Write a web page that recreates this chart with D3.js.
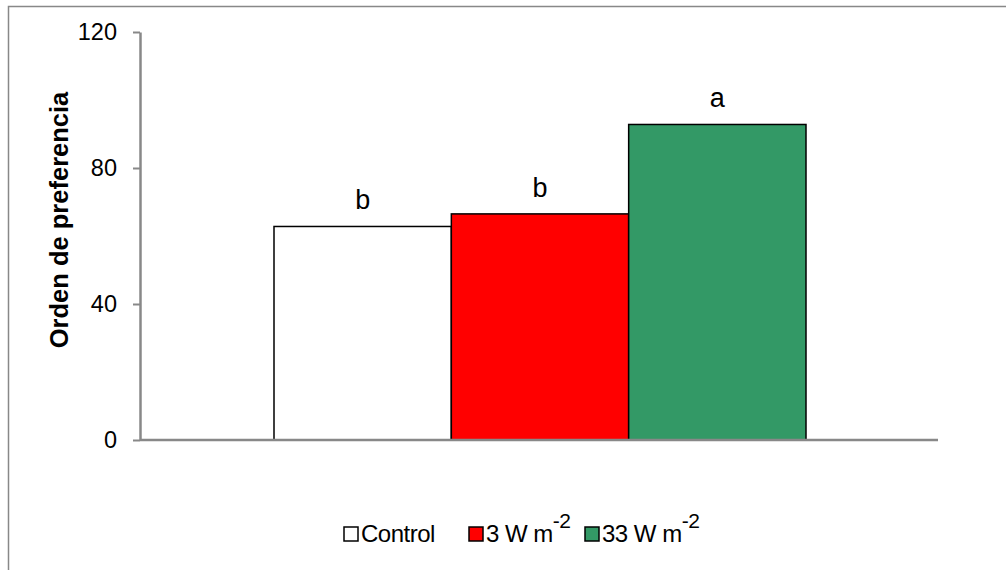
<!DOCTYPE html>
<html>
<head>
<meta charset="utf-8">
<script src="https://cdn.jsdelivr.net/npm/d3@7"></script>
<style>
  body { margin: 0; background: #fff; }
  text { font-family: "Liberation Sans", Arial, sans-serif; }
</style>
</head>
<body>
<svg width="1006" height="570"></svg>
<script>
// data
var seriesNames = ["Control", "3 W m", "33 W m"];
var seriesValues = [62.8, 66.5, 92.8];
var seriesLetters = ["b", "b", "a"];
var seriesColors = ["#FFFFFF", "#FF0000", "#339966"];
var yTicks = [0, 40, 80, 120];

let svg = d3.select("svg");

// outer frame
svg.append("rect")
    .attr("x", 8.5).attr("y", 6.5)
    .attr("width", 1010).attr("height", 580)
    .attr("fill", "none")
    .attr("stroke", "#888")
    .attr("stroke-width", 1.5);

let plotLeft = 140, plotRight = 938, plotTop = 32, plotBottom = 440;

var y = d3.scaleLinear().domain([0, 120]).range([plotBottom, plotTop]);
// one category, three series side by side
var x = d3.scaleBand().domain(seriesNames).range([274, 806]).paddingInner(0).paddingOuter(0);

// bars
svg.append("g").selectAll("rect")
    .data(seriesValues)
    .enter()
    .append("rect")
    .attr("x", (d, i) => x(seriesNames[i]))
    .attr("y", d => y(d))
    .attr("width", x.bandwidth())
    .attr("height", d => plotBottom - y(d))
    .attr("fill", (d, i) => seriesColors[i])
    .attr("stroke", "#000")
    .attr("stroke-width", 1.5);

// letters above bars
svg.append("g").selectAll("text")
    .data(seriesValues)
    .enter()
    .append("text")
    .attr("x", (d, i) => x(seriesNames[i]) + x.bandwidth() / 2)
    .attr("y", d => y(d) - 17)
    .attr("text-anchor", "middle")
    .style("font-size", "27px")
    .text((d, i) => seriesLetters[i]);

// y axis
var yAxis = svg.append("g")
    .attr("transform", "translate(" + plotLeft + ",0)")
    .call(d3.axisLeft(y).tickValues(yTicks).tickSize(7).tickPadding(16).tickSizeOuter(0));
yAxis.select(".domain").attr("stroke", "#888").attr("stroke-width", 2.5);
yAxis.selectAll(".tick line").attr("stroke", "#888").attr("stroke-width", 2);
yAxis.selectAll(".tick text")
    .style("font-size", "23.5px")
    .attr("fill", "#000")
    .attr("font-family", "Liberation Sans, Arial, sans-serif");

// x axis line
svg.append("line")
    .attr("x1", plotLeft).attr("x2", plotRight)
    .attr("y1", plotBottom).attr("y2", plotBottom)
    .attr("stroke", "#888")
    .attr("stroke-width", 2.5);

// y axis title
svg.append("text")
    .attr("transform", "translate(68,220) rotate(-90)")
    .attr("text-anchor", "middle")
    .style("font-size", "25.5px")
    .style("font-weight", "bold")
    .text("Orden de preferencia");

// legend
var legendX = [344, 469, 585];
var legend = svg.append("g");
for (var i = 0; i < seriesNames.length; i++) {
    legend.append("rect")
        .attr("x", legendX[i]).attr("y", 527)
        .attr("width", 14).attr("height", 14)
        .attr("fill", seriesColors[i])
        .attr("stroke", "#000")
        .attr("stroke-width", 1.5);
    var t = legend.append("text")
        .attr("x", legendX[i] + 17)
        .attr("y", 542)
        .style("font-size", "24px")
        .style("letter-spacing", "-0.5px")
        .text(seriesNames[i]);
    if (i > 0) {
        t.append("tspan")
            .attr("dy", -14)
            .style("font-size", "21px")
            .text("-2");
    }
}
</script>
</body>
</html>
